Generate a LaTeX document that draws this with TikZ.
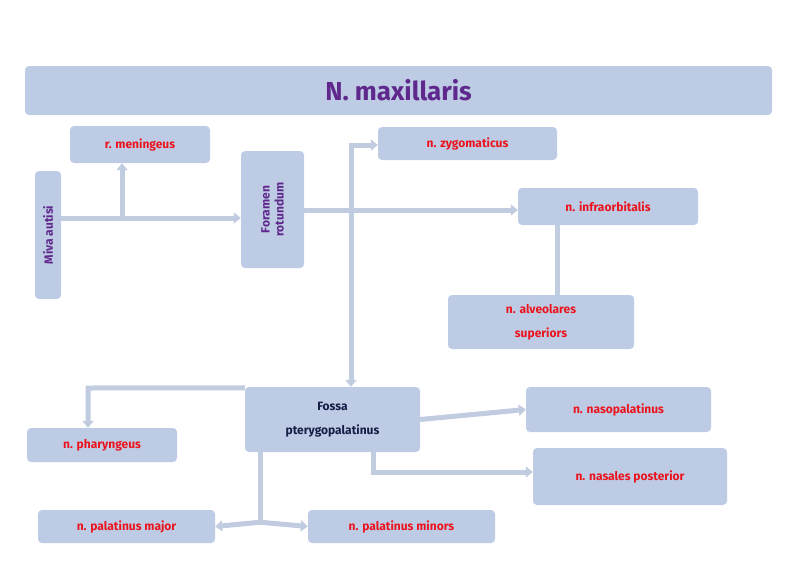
\documentclass[tikz,border=0pt]{standalone}
\usepackage{fontspec}
\setmainfont{Fira Sans}
\usetikzlibrary{arrows.meta}
\definecolor{boxc}{RGB}{190,203,228}
\definecolor{linec}{RGB}{193,204,224}
\definecolor{redt}{RGB}{235,20,30}
\definecolor{purp}{RGB}{95,40,140}
\definecolor{navy}{RGB}{20,30,70}
\begin{document}
\begin{tikzpicture}[x=1pt,y=-1pt,
  bx/.style={fill=boxc,rounded corners=4pt,inner sep=0pt,text=redt,font=\bfseries\fontsize{12}{15}\selectfont,align=center},
  cn/.style={draw=linec,line width=5pt},
  ar/.style={cn,-{Triangle[length=7pt,width=11pt]}}]
\useasboundingbox (0,0) rectangle (800,565);
\node[bx,minimum width=747pt,minimum height=49pt,text=purp,font=\bfseries\fontsize{26}{30}\selectfont] (t) at (398.5,90.5) {N. maxillaris};
\node[bx,minimum width=140pt,minimum height=37pt] (men) at (140,144.5) {r. meningeus};
\node[bx,minimum width=128pt,minimum height=26pt,rotate=90,text=purp] (miva) at (48,235) {Miva autisi};
\node[bx,minimum width=117pt,minimum height=63pt,rotate=90,text=purp,font=\bfseries\fontsize{12}{14}\selectfont] (for) at (272.5,209.5) {Foramen\\rotundum};
\node[bx,minimum width=179pt,minimum height=33pt] (zyg) at (467.5,143.5) {n. zygomaticus};
\node[bx,minimum width=180pt,minimum height=37pt] (inf) at (608,206.5) {n. infraorbitalis};
\node[bx,minimum width=186pt,minimum height=54pt,font=\bfseries\fontsize{12}{24}\selectfont] (alv) at (541,322) {n. alveolares\\superiors};
\node[bx,minimum width=175pt,minimum height=65pt,text=navy,font=\bfseries\fontsize{12}{24}\selectfont] (fos) at (332.5,419.5) {Fossa\\pterygopalatinus};
\node[bx,minimum width=185pt,minimum height=45pt] (nas) at (618.5,409.5) {n. nasopalatinus};
\node[bx,minimum width=194pt,minimum height=57pt] (npos) at (630,476.5) {n. nasales posterior};
\node[bx,minimum width=150pt,minimum height=34pt] (pha) at (102,445) {n. pharyngeus};
\node[bx,minimum width=177pt,minimum height=33pt] (maj) at (126.5,526.5) {n. palatinus major};
\node[bx,minimum width=187pt,minimum height=33pt] (min) at (401.5,526.5) {n. palatinus minors};
\coordinate (j1) at (122,218);
\coordinate (v1) at (351,145);
\coordinate (v2) at (351,210);
\coordinate (p1) at (88,388);
\coordinate (f2) at (373,472);
\coordinate (f3) at (260,522);
\draw[ar] (miva.south |- j1) -- (for.north |- j1);
\draw[ar] (j1) -- (men.south -| j1);
\draw[ar] (for.south |- v2) -- (inf.west |- v2);
\draw[ar] (v1) -- (fos.north -| v1);
\draw[ar] ([xshift=-2.5pt]v1) -- (zyg.west |- v1);
\draw[cn] (inf.south -| alv.north east) ++(-77,0) -- ++(0,70);
\draw[ar] (fos.north west) ++(0,1) -- (p1) -- (pha.north -| p1);
\draw[ar] (fos.east) -- (nas.west);
\draw[ar] (fos.south -| f2) -- (f2) -- (npos.west |- f2);
\draw[cn] (fos.south -| f3) -- (f3);
\draw[ar] ([xshift=2.5pt]f3) -- (maj.east);
\draw[ar] ([xshift=-2.5pt]f3) -- (min.west);
\end{tikzpicture}
\end{document}
